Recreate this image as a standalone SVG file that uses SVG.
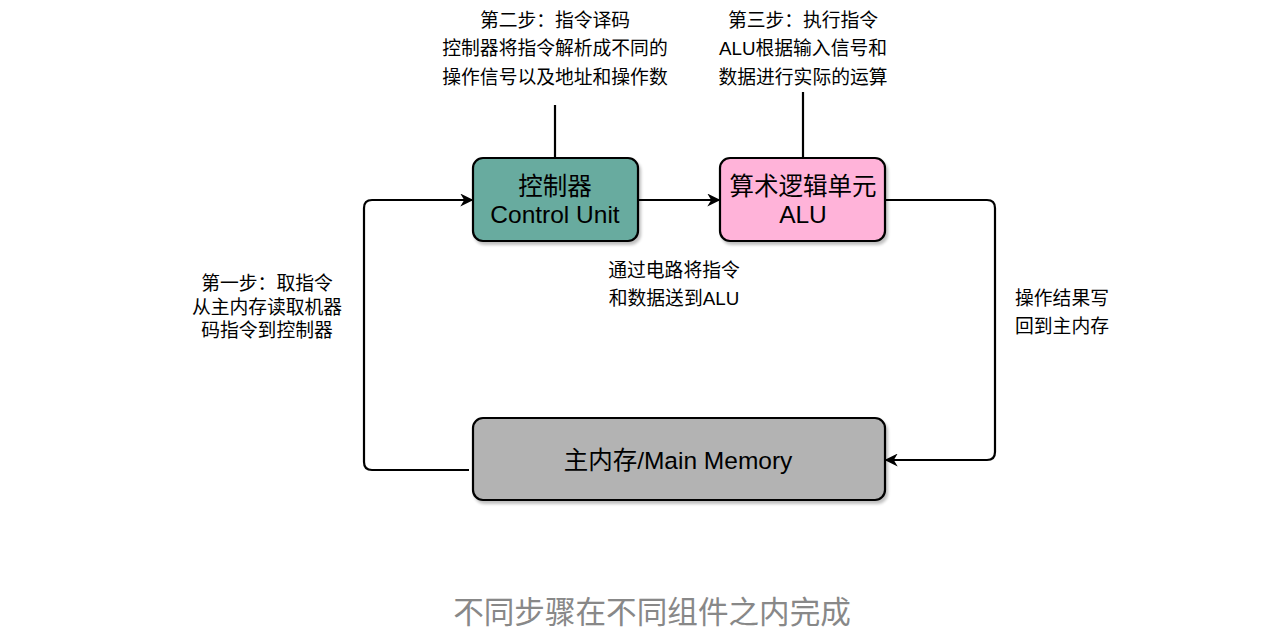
<svg xmlns="http://www.w3.org/2000/svg" width="1264" height="638" viewBox="0 0 1264 638">
<style>
.box{stroke:#000;stroke-width:2.2}
.t{font-family:"Liberation Sans","Noto Sans CJK SC",sans-serif;fill:#000;text-anchor:middle}
.big{font-size:24.5px}
.small{font-size:18.8px}
.conn{fill:none;stroke:#000;stroke-width:2.2}
</style>
<defs>
<marker id="arr" viewBox="0 0 10 10" refX="9" refY="5" markerWidth="13" markerHeight="13" markerUnits="userSpaceOnUse" orient="auto">
<path d="M0,0 L10,5 L0,10 L3,5 Z" fill="#000"/>
</marker>
<filter id="sh" x="-10%" y="-10%" width="130%" height="140%">
<feOffset dx="2" dy="3" in="SourceAlpha" result="o"/>
<feGaussianBlur in="o" stdDeviation="1.5" result="b"/>
<feComponentTransfer in="b" result="c"><feFuncA type="linear" slope="0.25"/></feComponentTransfer>
<feMerge><feMergeNode in="c"/><feMergeNode in="SourceGraphic"/></feMerge>
</filter>
</defs>
<rect width="1264" height="638" fill="#fff"/>
<g id="connectors">
<line class="conn" x1="555" y1="105" x2="555" y2="158"/>
<line class="conn" x1="803" y1="92" x2="803" y2="158"/>
<path class="conn" d="M638,200 L719,200" marker-end="url(#arr)"/>
<path class="conn" d="M469,470 L372,470 Q364,470 364,462 L364,208 Q364,200 372,200 L472,200" marker-end="url(#arr)"/>
<path class="conn" d="M885,200 L987,200 Q995,200 995,208 L995,452 Q995,460 987,460 L886,460" marker-end="url(#arr)"/>
</g>
<g id="cu">
<rect class="box" x="473" y="158" width="165" height="83" rx="10" fill="#67AB9F" filter="url(#sh)"/>
<text class="t big" x="555" y="195">控制器</text>
<text class="t big" x="555" y="223">Control Unit</text>
</g>
<g id="alu">
<rect class="box" x="720" y="158" width="165" height="83" rx="10" fill="#FFB3D9" filter="url(#sh)"/>
<text class="t big" x="803" y="195">算术逻辑单元</text>
<text class="t big" x="803" y="223">ALU</text>
</g>
<g id="memory">
<rect class="box" x="473" y="418" width="412" height="82" rx="10" fill="#B3B3B3" filter="url(#sh)"/>
<text class="t big" x="678" y="469">主内存/Main Memory</text>
</g>
<g id="label-decode">
<text class="t small" x="555" y="27">第二步：指令译码</text>
<text class="t small" x="555" y="55">控制器将指令解析成不同的</text>
<text class="t small" x="555" y="84">操作信号以及地址和操作数</text>
</g>
<g id="label-exec">
<text class="t small" x="803" y="27">第三步：执行指令</text>
<text class="t small" x="803" y="55">ALU根据输入信号和</text>
<text class="t small" x="803" y="84">数据进行实际的运算</text>
</g>
<g id="label-fetch">
<text class="t small" x="267" y="290">第一步：取指令</text>
<text class="t small" x="267" y="314">从主内存读取机器</text>
<text class="t small" x="267" y="337">码指令到控制器</text>
</g>
<g id="label-transfer">
<text class="t small" x="674" y="277">通过电路将指令</text>
<text class="t small" x="674" y="305">和数据送到ALU</text>
</g>
<g id="label-write">
<text class="t small" x="1062" y="305">操作结果写</text>
<text class="t small" x="1062" y="333">回到主内存</text>
</g>
<text class="t" x="652" y="623" style="font-size:30.6px;fill:#888">不同步骤在不同组件之内完成</text>
</svg>
